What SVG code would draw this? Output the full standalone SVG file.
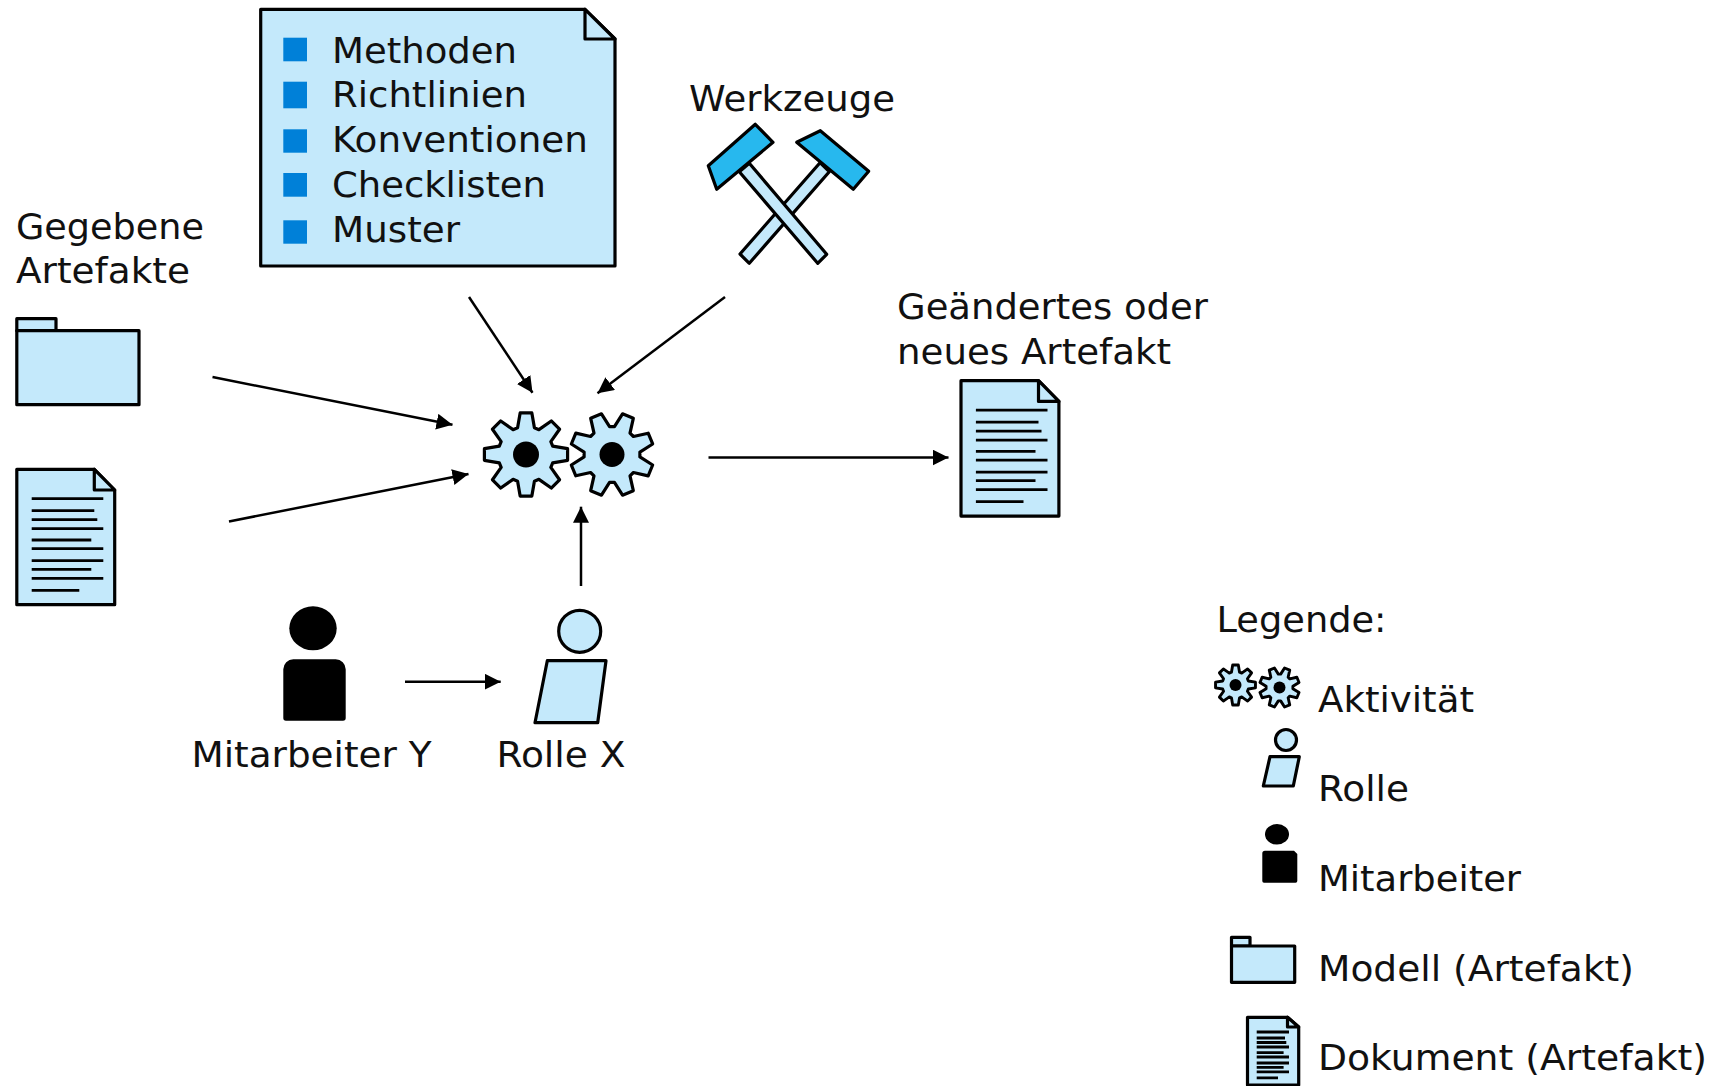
<svg xmlns="http://www.w3.org/2000/svg" xmlns:xlink="http://www.w3.org/1999/xlink" width="1717" height="1086" viewBox="0 0 1717 1086">
<style>
text{font-family:"DejaVu Sans","Liberation Sans",sans-serif;font-size:35px;fill:#111}
.s{fill:#c4e9fb;stroke:#000;stroke-width:3.2;stroke-linejoin:round}
.h{fill:#27b8ee;stroke:#000;stroke-width:3.2;stroke-linejoin:round}
.l{stroke:#000;stroke-width:2.8;fill:none}
.c{stroke:#000;stroke-width:2.5;fill:none;marker-end:url(#a)}
.b{fill:#0080d8}
</style>
<defs>
<marker id="a" markerUnits="userSpaceOnUse" markerWidth="18" markerHeight="18" refX="16" refY="8" orient="auto"><path d="M0 0L16 8L0 16z" fill="#000"/></marker>
<polygon id="gear" points="5.85,-41.59 8.42,-26.70 12.93,-24.84 25.28,-33.54 33.54,-25.28 24.84,-12.93 26.70,-8.42 41.59,-5.85 41.59,5.85 26.70,8.42 24.84,12.93 33.54,25.28 25.28,33.54 12.93,24.84 8.42,26.70 5.85,41.59 -5.85,41.59 -8.42,26.70 -12.93,24.84 -25.28,33.54 -33.54,25.28 -24.84,12.93 -26.70,8.42 -41.59,5.85 -41.59,-5.85 -26.70,-8.42 -24.84,-12.93 -33.54,-25.28 -25.28,-33.54 -12.93,-24.84 -8.42,-26.70 -5.85,-41.59"/>
<g id="doc">
<path class="s" d="M16.8 469.3H94.3L114.7 490V604.7H16.8Z"/>
<path class="s" d="M94.3 469.3V490H114.7Z"/>
<path class="l" d="M31.7 498.7H103.3M31.7 510.7H94.3M31.7 519.7H97.3M31.7 528.7H103.3M31.7 540H91.3M31.7 548.7H103.3M31.7 560.7H103.3M31.7 569.3H91.3M31.7 578.3H103.3M31.7 590.3H79.3"/>
</g>
</defs>
<g id="conn">
<path class="c" d="M212.5 377L452.5 424.8"/>
<path class="c" d="M229 521.5L468.5 474"/>
<path class="c" d="M469 297L532.5 392.8"/>
<path class="c" d="M725 297L597.5 393.3"/>
<path class="c" d="M581 586V506.7"/>
<path class="c" d="M708.5 457.5H948.5"/>
<path class="c" d="M405 681.7H500.7"/>
</g>
<g id="gegebene"><text x="16" y="239" textLength="188" lengthAdjust="spacingAndGlyphs">Gegebene</text><text x="16" y="282.8" textLength="174" lengthAdjust="spacingAndGlyphs">Artefakte</text></g>
<g id="folder">
<path class="s" d="M16.8 318.7H56V330.7H16.8Z"/><path class="s" d="M16.8 330.7H139V404.7H16.8Z"/>
</g>
<g id="doc-in"><use xlink:href="#doc" href="#doc"/></g>
<g id="note">
<path class="s" d="M260.7 9.3H585L615 39V266H260.7Z"/><path class="s" d="M585 9.3V39H615Z"/>
<rect class="b" x="283.3" y="37.7" width="23.7" height="23.6"/><rect class="b" x="283.3" y="81.7" width="23.7" height="26.6"/><rect class="b" x="283.3" y="129.3" width="23.7" height="23.4"/><rect class="b" x="283.3" y="173" width="23.7" height="23.7"/><rect class="b" x="283.3" y="220.3" width="23.7" height="23.4"/>
<text x="332" y="62.5" textLength="185" lengthAdjust="spacingAndGlyphs">Methoden</text><text x="332" y="107" textLength="195" lengthAdjust="spacingAndGlyphs">Richtlinien</text><text x="332" y="151.5" textLength="256" lengthAdjust="spacingAndGlyphs">Konventionen</text><text x="332" y="196.5" textLength="214" lengthAdjust="spacingAndGlyphs">Checklisten</text><text x="332" y="241.5" textLength="128" lengthAdjust="spacingAndGlyphs">Muster</text>
</g>
<g id="tools">
<text x="689" y="110.6" textLength="206" lengthAdjust="spacingAndGlyphs">Werkzeuge</text>
<polygon class="s" points="820,162.7 829.3,171.7 749.3,263.3 740,254"/>
<polygon class="h" points="796.7,142.3 820.3,130.7 868.7,171.3 853.3,189.3"/>
<polygon class="s" points="739.3,171.7 749.3,163.3 826.7,254.3 817.7,263.3"/>
<polygon class="h" points="755.3,124.3 773,142.3 716.7,189.3 708.3,165.7"/>
</g>
<g id="activity">
<use xlink:href="#gear" href="#gear" class="s" transform="translate(526 454.5)"/><circle cx="526" cy="454.5" r="13"/>
<use xlink:href="#gear" href="#gear" class="s" transform="translate(612 454.5) rotate(22.5)"/><circle cx="612" cy="454.5" r="12.5"/>
</g>
<g id="doc-out"><use xlink:href="#doc" href="#doc" transform="translate(944.2 -88.6)"/><text x="897" y="318.6" textLength="311" lengthAdjust="spacingAndGlyphs">Geändertes oder</text><text x="897" y="364.3" textLength="274" lengthAdjust="spacingAndGlyphs">neues Artefakt</text></g>
<g id="worker"><ellipse cx="313" cy="628.3" rx="23.7" ry="22"/><path d="M293.3 659.3H335.7A10 10 0 0 1 345.7 669.3V718A2.7 2.7 0 0 1 343 720.7H286A2.7 2.7 0 0 1 283.3 718V669.3A10 10 0 0 1 293.3 659.3Z"/><text x="191.5" y="766.5" textLength="240" lengthAdjust="spacingAndGlyphs">Mitarbeiter Y</text></g>
<g id="role"><circle class="s" cx="579.7" cy="631.3" r="21"/><polygon class="s" points="547.3,660.7 606,660.7 597.7,722.7 535,722.7"/><text x="496.5" y="766.5" textLength="129" lengthAdjust="spacingAndGlyphs">Rolle X</text></g>
<g id="legend">
<text x="1216.5" y="632" textLength="170" lengthAdjust="spacingAndGlyphs">Legende:</text>
<g id="leg-act">
<g transform="translate(1235.5 685) scale(.48)"><use xlink:href="#gear" href="#gear" fill="#c4e9fb" stroke="#000" stroke-width="6" stroke-linejoin="round"/></g><circle cx="1235.5" cy="685" r="6"/>
<g transform="translate(1279.5 687.5) rotate(22.5) scale(.48)"><use xlink:href="#gear" href="#gear" fill="#c4e9fb" stroke="#000" stroke-width="6" stroke-linejoin="round"/></g><circle cx="1279.5" cy="687.5" r="6"/>
<text x="1318" y="711.7" textLength="156" lengthAdjust="spacingAndGlyphs">Aktivität</text>
</g>
<g id="leg-role"><circle class="s" cx="1286" cy="740" r="10.5"/><polygon class="s" points="1270,756.7 1299.3,756.7 1293.3,786 1263.3,786"/><text x="1318" y="800.5" textLength="91" lengthAdjust="spacingAndGlyphs">Rolle</text></g>
<g id="leg-worker"><ellipse cx="1277" cy="834.3" rx="12" ry="10.3"/><path d="M1265 850.7H1294L1297.3 854V881A1.7 1.7 0 0 1 1295.6 882.7H1264A1.7 1.7 0 0 1 1262.3 881V853.4A2.7 2.7 0 0 1 1265 850.7Z"/><text x="1318" y="891" textLength="203" lengthAdjust="spacingAndGlyphs">Mitarbeiter</text></g>
<g id="leg-model"><path class="s" d="M1231.5 937.3H1250V946H1231.5Z"/><path class="s" d="M1231.5 946H1294.7V982.3H1231.5Z"/><text x="1318" y="980.5" textLength="316" lengthAdjust="spacingAndGlyphs">Modell (Artefakt)</text></g>
<g id="leg-doc"><path class="s" d="M1247.5 1017.3H1287.5L1298.7 1027V1085H1247.5Z"/><path class="s" d="M1287.5 1017.3V1027H1298.7Z"/>
<path class="l" d="M1256.7 1032H1289M1256.7 1038H1285M1256.7 1042.5H1286.3M1256.7 1047H1289M1256.7 1052.6H1283.6M1256.7 1057H1289M1256.7 1063H1289M1256.7 1067.3H1283.6M1256.7 1071.8H1289M1256.7 1077.8H1278"/>
<text x="1318" y="1070" textLength="389" lengthAdjust="spacingAndGlyphs">Dokument (Artefakt)</text></g>
</g>
</svg>
